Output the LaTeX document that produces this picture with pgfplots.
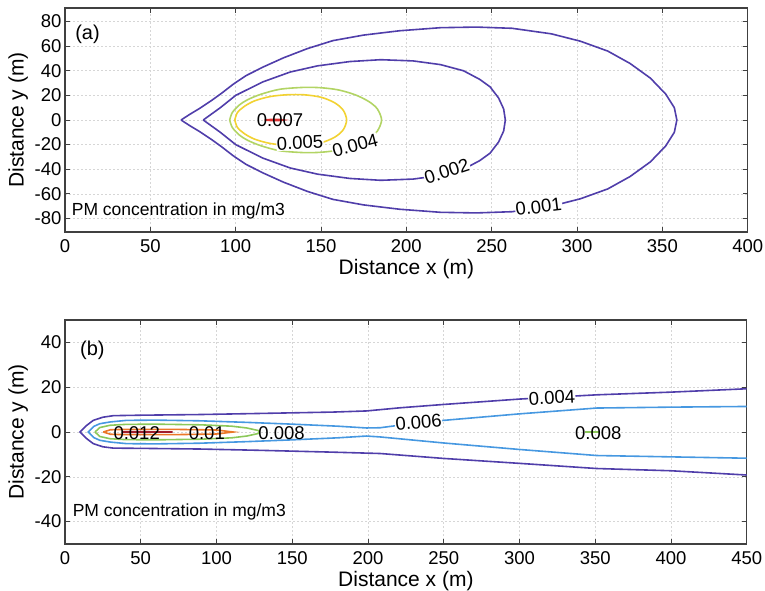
\documentclass[border=0pt]{standalone}
\usepackage{pgfplots}
\pgfplotsset{compat=1.18}
\usepackage{fontspec}
\setmainfont{Liberation Sans}
\definecolor{cpurple}{RGB}{80,62,170}
\definecolor{cblue}{RGB}{70,152,225}
\definecolor{cgreenb}{RGB}{140,200,90}
\definecolor{cgreena}{RGB}{178,212,100}
\definecolor{cyellow}{RGB}{242,210,50}
\definecolor{corange}{RGB}{235,120,40}
\definecolor{cdred}{RGB}{160,30,45}
\definecolor{cred}{RGB}{220,50,50}
\tikzset{clab/.style={font=\fontsize{18.5}{20}\selectfont, inner sep=0.5pt}}
\pgfplotsset{
  mystyle/.style={
    scale only axis,
    axis line style={black!75, line width=1.2pt},
    tick style={black!75, line width=0.8pt},
    tick align=inside,
    major tick length=5pt,
    xtick pos=both, ytick pos=both,
    grid=major,
    major grid style={gray!32, dash pattern=on 2pt off 2pt, line width=0.6pt},
    /pgf/number format/assume math mode=true,
    ticklabel style={font=\fontsize{18.5}{20}\selectfont},
    xticklabel shift=4pt,
    label style={font=\fontsize{21}{23}\selectfont},
    xlabel={Distance x (m)},
    ylabel={Distance y (m)},
    every axis plot/.append style={line width=1.6pt},
  },
}
\begin{document}
\begin{tikzpicture}
\path[use as bounding box] (0,0) rectangle (765pt,-591pt);
% ---------------- (a)
\begin{axis}[mystyle, at={(65pt,-232pt)}, anchor=south west,
  width=682.7pt, height=224pt,
  xmin=0, xmax=400, ymin=-91, ymax=91,
  xtick={0,50,...,400}, ytick={-80,-60,...,80}]
% 0.001
\addplot[cpurple] coordinates {
(68,0)(73,4.5)(79,9.5)(86,16)(92,22)(98.5,29)(106,36)(116,43)(128,50.5)(142,58)(157,64.5)(175,69)(196,72.5)(220,75)(241,75.5)(262,74.5)(285,70)(302,64)(318,56)(331,46)(343,34)(352,21)(357,10)(358.5,0)
(357,-10)(352,-21)(343,-34)(331,-46)(318,-56)(302,-64)(285,-70)(262,-74.5)(241,-75.5)(220,-75)(196,-72.5)(175,-69)(157,-64.5)(142,-58)(128,-50.5)(116,-43)(106,-36)(98.5,-29)(92,-22)(86,-16)(79,-9.5)(73,-4.5)(68,0)};
% 0.002
\addplot[cpurple] coordinates {
(81,0)(85,4)(91,10)(100,20)(116,31)(132,39)(148,44)(167,47.5)(185,49)(204,48)(220,45)(233.5,40)(243,33)(249,27)(254,18)(257,9)(258,0)
(257,-9)(254,-18)(249,-27)(243,-33)(233.5,-40)(220,-45)(204,-48)(185,-49)(167,-47.5)(148,-44)(132,-39)(116,-31)(100,-20)(91,-10)(85,-4)(81,0)};
% 0.004
\addplot[cgreena, smooth, tension=0.5] coordinates {
(96.5,0)(98,6)(102,12)(107,16.5)(115,21)(126,25)(140,26.5)(150,26.2)(160,24.5)(170,20.5)(178,15)(183,9)(185.5,0)
(183,-9)(178,-15)(170,-20.5)(160,-24.5)(150,-26.2)(140,-26.5)(126,-25)(115,-21)(107,-16.5)(102,-12)(98,-6)(96.5,0)};
% 0.005
\addplot[cyellow, smooth, tension=0.5] coordinates {
(99.5,0)(101,6)(105,11)(111,15.5)(120,19)(130,20.5)(140,20.5)(150,18.5)(158,14)(163,8)(165,0)
(163,-8)(158,-14)(150,-18.5)(140,-20.5)(130,-20.5)(120,-19)(111,-15.5)(105,-11)(101,-6)(99.5,0)};
% 0.007
\addplot[cred] coordinates {(117,0)(121,0.5)(126,0.4)(128,0)(126,-0.4)(121,-0.5)(117,0)};
\node[clab] at (axis cs:126,0) {0.007};
\node[clab, fill=white, rotate=3] at (axis cs:137.7,-18.5) {0.005};
\node[clab, fill=white, rotate=15] at (axis cs:170,-20.5) {0.004};
\node[clab, fill=white, rotate=18] at (axis cs:223.7,-41.5) {0.002};
\node[clab, fill=white, rotate=7] at (axis cs:277.5,-70.5) {0.001};
\node[anchor=west, font=\fontsize{20}{22}\selectfont, inner sep=0pt] at (axis cs:5.9,70) {(a)};
\node[anchor=west, font=\fontsize{17.5}{19}\selectfont, inner sep=0pt] at (axis cs:3.9,-74) {PM concentration in mg/m3};
\end{axis}
% ---------------- (b)
\begin{axis}[mystyle, at={(65pt,-544pt)}, anchor=south west,
  width=681.7pt, height=224pt,
  xmin=0, xmax=450, ymin=-50, ymax=50,
  xtick={0,50,...,450}, ytick={-40,-20,...,40}]
% 0.004
\addplot[cpurple] coordinates {
(450,19.3)(400,17.8)(351,16.6)(300,14.7)(250,12.3)(221,10.8)(199,9.4)(177,8.9)(130,8.3)(89,7.8)(50,7.5)(32,7.3)(25,6.6)(18.7,5.2)(14,2.8)(9.9,0)
(14,-2.8)(18.7,-5.2)(25,-6.6)(32,-7.2)(50,-7.3)(89,-7.6)(130,-8.2)(177,-9)(208,-9.6)(250,-11.8)(300,-14)(351,-16.3)(400,-17.3)(450,-19.2)};
% 0.006
\addplot[cblue] coordinates {
(450,11.4)(400,11.1)(351,10.7)(300,8.1)(250,5.2)(225,3.4)(208,1.9)(199,1.8)(180,2.6)(150,3.5)(120,4.3)(89,5)(60,5.3)(40.7,5.2)(30,4.5)(23,3.7)(19,2.5)(15.4,0)
(19,-2.5)(23,-3.7)(30,-4.5)(40.7,-5.2)(60,-5.3)(89,-5)(120,-4.3)(150,-3.5)(180,-2.6)(199,-1.8)(208,-2.2)(225,-3.3)(250,-4.9)(300,-7.8)(351,-10.5)(400,-11.1)(450,-11.7)};
% 0.008
\addplot[cgreenb] coordinates {
(19.8,0)(23,2)(29.7,3)(40,3.4)(60,3.5)(90,3.2)(110,2.6)(120,1.8)(128,0.6)(128,-0.6)(120,-1.8)(110,-2.6)(90,-3.2)(60,-3.5)(40,-3.4)(29.7,-3)(23,-2)(19.8,0)};
\addplot[cgreenb] coordinates {(343.5,0)(353,0)};
% 0.01
\addplot[corange] coordinates {
(25.3,0)(30,1)(40,1.2)(70,1.2)(100,0.9)(111,0)(100,-0.9)(70,-1.2)(40,-1.2)(30,-1)(25.3,0)};
% 0.012
\addplot[cdred] coordinates {(38,0.2)(71,0)(38,-0.2)};
\node[clab] at (axis cs:47.3,-0.7) {0.012};
\node[clab] at (axis cs:93.6,-0.7) {0.01};
\node[clab] at (axis cs:143,-0.7) {0.008};
\node[clab, fill=white, rotate=5] at (axis cs:233.4,4.4) {0.006};
\node[clab, fill=white, rotate=3] at (axis cs:321.4,15.3) {0.004};
\node[clab] at (axis cs:352,-0.7) {0.008};
\node[anchor=west, font=\fontsize{20}{22}\selectfont, inner sep=0pt] at (axis cs:9.9,36.6) {(b)};
\node[anchor=west, font=\fontsize{17.5}{19}\selectfont, inner sep=0pt] at (axis cs:5,-35.6) {PM concentration in mg/m3};
\end{axis}
\end{tikzpicture}
\end{document}
